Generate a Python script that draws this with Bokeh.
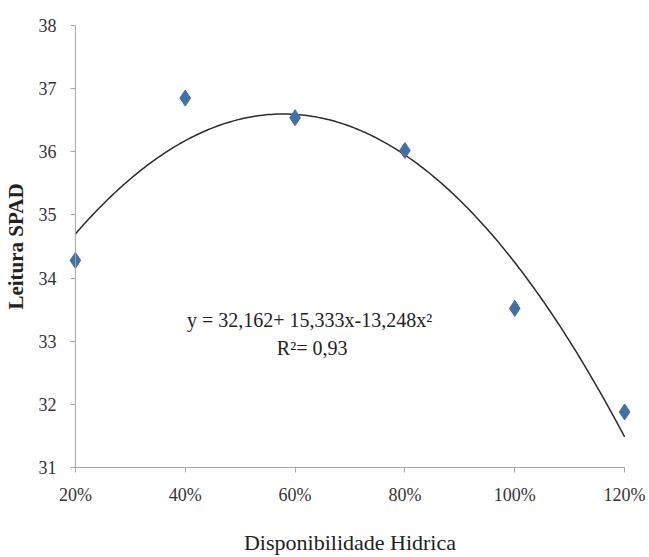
import numpy as np
from bokeh.plotting import figure
from bokeh.models import FixedTicker, Range1d, Span
from bokeh.core.properties import value
from bokeh.embed import file_html
from bokeh.resources import INLINE

# data
water_pct = [20, 40, 60, 80, 100, 120]
spad = [34.28, 36.85, 36.54, 36.02, 33.52, 31.88]
tick_labels = ["20%", "40%", "60%", "80%", "100%", "120%"]
y_ticks = [31, 32, 33, 34, 35, 36, 37, 38]
coef = [32.162, 15.333, -13.248]  # trend line y = a + b x + c x^2 (x as fraction)
eq_text = "y =  32,162+ 15,333x-13,248x\u00b2"
r2_text = "R\u00b2= 0,93"

FONT = "Liberation Serif"
AXIS_COLOR = "#a6a6a6"
PAD = 1.8  # small x padding so edge markers are not clipped

p = figure(width=649, height=557, output_backend="svg", toolbar_location=None,
           x_range=Range1d(20 - PAD, 120 + PAD), y_range=Range1d(31, 38),
           min_border_left=62, min_border_right=15, min_border_top=25, min_border_bottom=87)
p.outline_line_color = None
p.xgrid.visible = False
p.ygrid.visible = False
p.background_fill_color = "white"
p.border_fill_color = "white"

# vertical axis line at 20%
p.add_layout(Span(location=20, dimension="height", line_color=AXIS_COLOR, line_width=1))

# trend line
xs = np.linspace(0.2, 1.2, 200)
ys = coef[0] + coef[1] * xs + coef[2] * xs ** 2
p.line(xs * 100, ys, line_color="#2b2b2b", line_width=1.5)

# points
p.scatter(water_pct, spad, marker="diamond", size=16, fill_color="#4270a5",
          line_color="#4270a5")

# equation text
p.text(x=[63.1], y=[33.33], text=[eq_text], text_font=value(FONT), text_font_size="20px",
       text_align="center", text_baseline="middle", text_color="#222222")
p.text(x=[63.1], y=[32.9], text=[r2_text], text_font=value(FONT), text_font_size="20px",
       text_align="center", text_baseline="middle", text_color="#222222")

for ax in (p.xaxis[0], p.yaxis[0]):
    ax.axis_line_color = AXIS_COLOR
    ax.major_tick_line_color = AXIS_COLOR
    ax.minor_tick_line_color = None
    ax.major_tick_in = 0
    ax.major_tick_out = 5
    ax.major_label_text_font = FONT
    ax.major_label_text_font_size = "18px"
    ax.major_label_text_color = "#333333"
    ax.axis_label_text_font = FONT
    ax.axis_label_text_color = "#222222"

p.xaxis.ticker = FixedTicker(ticks=water_pct)
p.xaxis.bounds = (20, 120)
p.xaxis.major_label_overrides = {v: s for v, s in zip(water_pct, tick_labels)}
p.xaxis.axis_label = "Disponibilidade Hidrica"
p.xaxis.axis_label_text_font_style = "normal"
p.xaxis.axis_label_text_font_size = "22px"
p.xaxis.major_label_standoff = 12
p.xaxis.axis_label_standoff = 22

p.yaxis.ticker = FixedTicker(ticks=y_ticks)
p.yaxis.axis_line_color = None
p.yaxis.major_tick_in = 10
p.yaxis.major_tick_out = -5
p.yaxis.axis_label = "Leitura SPAD"
p.yaxis.axis_label_text_font_style = "bold"
p.yaxis.axis_label_text_font_size = "21px"
p.yaxis.major_label_standoff = 9
p.yaxis.axis_label_standoff = 8

open("out.html", "w").write(file_html(p, INLINE))
